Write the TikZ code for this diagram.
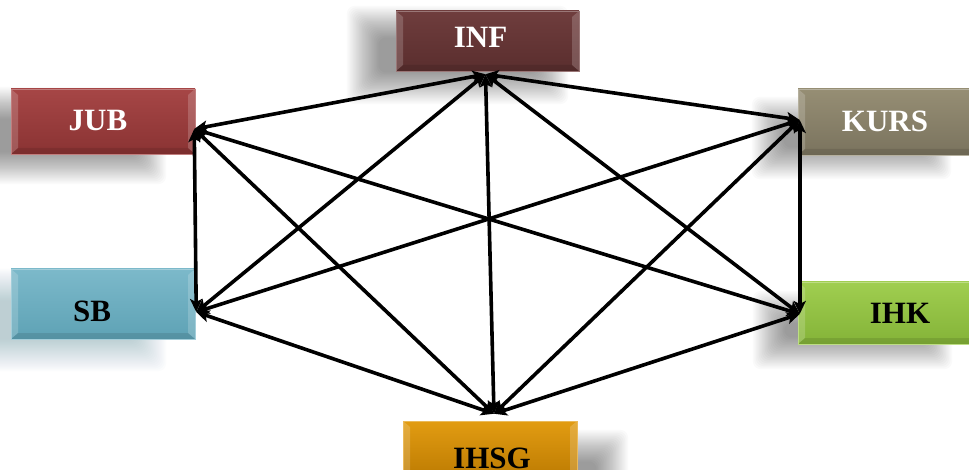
\documentclass[tikz,border=0pt]{standalone}
\usepackage{fontspec}
\newfontfamily\boxfont{Liberation Serif}
\usetikzlibrary{arrows.meta,calc}

\definecolor{infTop}{HTML}{6F3D3D}
\definecolor{infBot}{HTML}{5A2E2E}
\definecolor{jubTop}{HTML}{A64646}
\definecolor{jubBot}{HTML}{8A3333}
\definecolor{kursTop}{HTML}{968E74}
\definecolor{kursBot}{HTML}{7A735E}
\definecolor{sbTop}{HTML}{7CB9CA}
\definecolor{sbBot}{HTML}{5EA2B5}
\definecolor{ihkTop}{HTML}{A0CE50}
\definecolor{ihkBot}{HTML}{84B338}
\definecolor{ihsgTop}{HTML}{E29C12}
\definecolor{ihsgBot}{HTML}{B87700}
\definecolor{shadowTeal}{HTML}{5F8E9C}

% soft shadow: node, x offset, y offset, growth, colour
\newcommand\softshadow[5]{%
  \foreach \k in {0,...,21}{%
    \pgfmathsetmacro\ee{#4+16-1.5*\k}%
    \fill[#5, opacity=0.02, rounded corners=8pt]
      ($(#1.north west)+(#2-\ee,#3-\ee)$) rectangle ($(#1.south east)+(#2+\ee,#3+\ee)$);
  }%
}

\tikzset{
  box/.style 2 args={rectangle, inner sep=0pt, top color=#1, bottom color=#2,
    draw=#1!70!white, line width=0.5pt,
    path picture={
      \fill[white,opacity=.18] (path picture bounding box.north west) -- ++(7pt,-6pt)
        -- ([shift={(7pt,6pt)}]path picture bounding box.south west)
        -- (path picture bounding box.south west) -- cycle;
      \fill[white,opacity=.18] (path picture bounding box.north east) -- ++(-7pt,-6pt)
        -- ([shift={(-7pt,6pt)}]path picture bounding box.south east)
        -- (path picture bounding box.south east) -- cycle;
      \fill[black,opacity=.10] (path picture bounding box.south west) -- ++(7pt,6pt)
        -- ([shift={(-7pt,6pt)}]path picture bounding box.south east)
        -- (path picture bounding box.south east) -- cycle;
    }},
  lbl/.style={font=\boxfont\bfseries\fontsize{31}{31}\selectfont, inner sep=0pt},
  link/.style={line width=3.6pt, line cap=round,
    {Stealth[length=13pt,width=12pt,inset=3pt]}-{Stealth[length=13pt,width=12pt,inset=3pt]}}
}

\begin{document}
\begin{tikzpicture}[x=1pt,y=-1pt]
  \clip (0,0) rectangle (969,470);
  \fill[white] (0,0) rectangle (969,470);

  % box outlines first (invisible), so the shadows can refer to them
  \path
    (487.5,41)  node[minimum width=183pt, minimum height=60pt] (inf)  {}
    (103,121.5) node[minimum width=184pt, minimum height=65pt] (jub)  {}
    (889.5,122) node[minimum width=183pt, minimum height=66pt] (kurs) {}
    (103,304)   node[minimum width=184pt, minimum height=70pt] (sb)   {}
    (889.5,313) node[minimum width=183pt, minimum height=62pt] (ihk)  {}
    (490,453)   node[minimum width=174pt, minimum height=64pt] (ihsg) {};

  % shadows
  \softshadow{inf}{-30}{14}{3}{black}
  \softshadow{jub}{-45}{14}{0}{black}
  \softshadow{kurs}{-38}{16}{-8}{black}
  \softshadow{sb}{-45}{16}{0}{shadowTeal}
  \softshadow{ihk}{-37}{17}{-8}{black}
  \softshadow{ihsg}{40}{20}{-5}{black}

  % boxes
  \node[box={infTop}{infBot}, minimum width=183pt, minimum height=60pt,
        label={[lbl,text=white,xshift=-7pt,yshift=4pt]center:INF}] (infbox) at (inf) {};
  \node[box={jubTop}{jubBot}, minimum width=184pt, minimum height=65pt,
        label={[lbl,text=white,xshift=-5pt,yshift=1pt]center:JUB}] (jubbox) at (jub) {};
  \node[box={kursTop}{kursBot}, minimum width=183pt, minimum height=66pt,
        label={[lbl,text=white,xshift=-4.5pt,yshift=1pt]center:KURS}] (kursbox) at (kurs) {};
  \node[box={sbTop}{sbBot}, minimum width=184pt, minimum height=70pt,
        label={[lbl,text=black,xshift=-11pt,yshift=-7pt]center:SB}] (sbbox) at (sb) {};
  \node[box={ihkTop}{ihkBot}, minimum width=183pt, minimum height=62pt,
        label={[lbl,text=black,xshift=10.5pt,yshift=0pt]center:IHK}] (ihkbox) at (ihk) {};
  \node[box={ihsgTop}{ihsgBot}, minimum width=174pt, minimum height=64pt,
        label={[lbl,text=black,xshift=2pt,yshift=-5pt]center:IHSG}] (ihsgbox) at (ihsg) {};

  % arrow meeting points beside each box
  \coordinate (pinf)  at ($(infbox.south)+(-2,3)$);
  \coordinate (pjub)  at ($(jubbox.east)+(-1,7.5)$);
  \coordinate (pkurs) at ($(kursbox.west)+(2,-2)$);
  \coordinate (psb)   at ($(sbbox.east)+(1,8)$);
  \coordinate (pihk)  at ($(ihkbox.west)+(2,1)$);
  \coordinate (pihsg) at ($(ihsgbox.north)+(4,-7)$);

  % connectors
  \draw[link] (pinf) -- (pjub);
  \draw[link] (pinf) -- (psb);
  \draw[link] (pinf) -- (pkurs);
  \draw[link] (pinf) -- (pihk);
  \draw[link] (pinf) -- (pihsg);
  \draw[link] (pjub) -- (psb);
  \draw[link] (pjub) -- (pihk);
  \draw[link] (pjub) -- (pihsg);
  \draw[link] (pkurs) -- (psb);
  \draw[link] (pkurs) -- (pihk);
  \draw[link] (pkurs) -- (pihsg);
  \draw[link] (psb) -- (pihsg);
  \draw[link] (pihk) -- (pihsg);
\end{tikzpicture}
\end{document}
